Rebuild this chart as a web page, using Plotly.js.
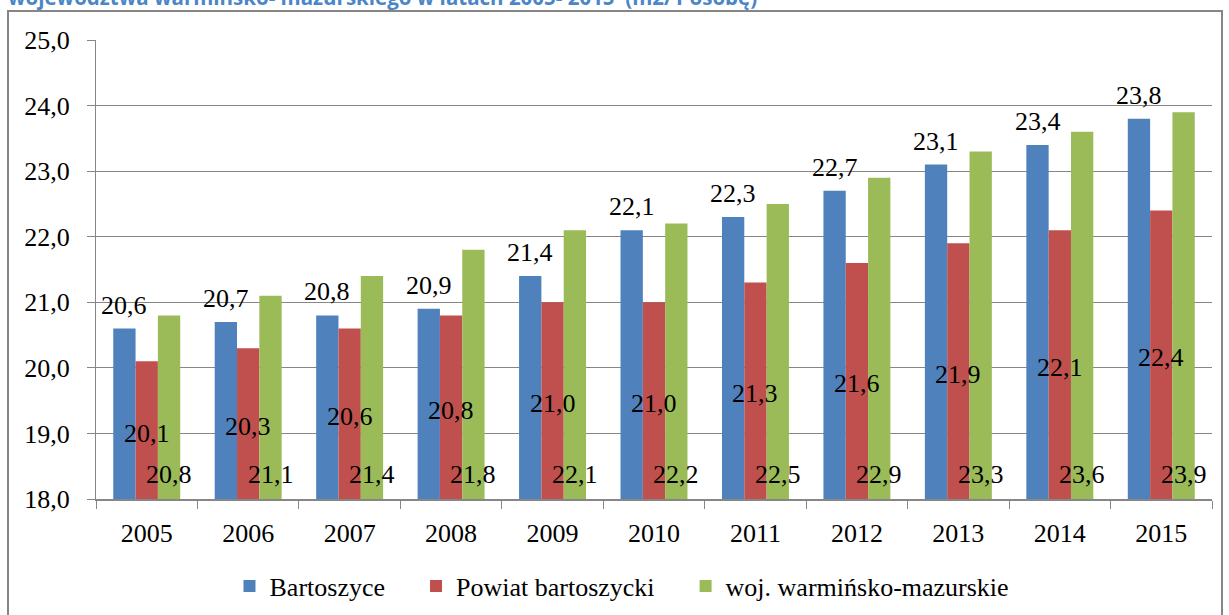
<!DOCTYPE html>
<html>
<head>
<meta charset="utf-8">
<script src="https://cdn.plot.ly/plotly-3.0.1.min.js"></script>
<style>html,body{margin:0;padding:0;background:#fff;}#chart{width:1229px;height:615px;}</style>
</head>
<body>
<div id="chart"></div>
<script>
const years = ["2005","2006","2007","2008","2009","2010","2011","2012","2013","2014","2015"];
const bartoszyce = [20.6,20.7,20.8,20.9,21.4,22.1,22.3,22.7,23.1,23.4,23.8];
const powiat = [20.1,20.3,20.6,20.8,21.0,21.0,21.3,21.6,21.9,22.1,22.4];
const wojewodztwo = [20.8,21.1,21.4,21.8,22.1,22.2,22.5,22.9,23.3,23.6,23.9];
const seriesNames = ["Bartoszyce","Powiat bartoszycki","woj. warmińsko-mazurskie"];
const seriesColors = ["#4F81BD","#C0504D","#9BBB59"];
const titleText = "województwa warmińsko- mazurskiego w latach 2005- 2015  (m2/1 osobę)";

const Y0 = 18, Y1 = 25;
const PLOT_W = 1116, PLOT_H = 459, BARGAP = 0.34;
const BAR_PX = PLOT_W / years.length * (1 - BARGAP) / 3;

const fmt = v => v.toFixed(1).replace('.', ',');
const F = (s) => ({family: "Liberation Serif", size: s || 26, color: "#000000"});
const legendPad = i => (i < seriesNames.length - 1 ? "\u00a0\u00a0\u00a0\u00a0" : "");

const allSeries = [bartoszyce, powiat, wojewodztwo];
const traces = allSeries.map((vals, i) => ({
  type: "bar", name: seriesNames[i] + legendPad(i), x: years, y: vals,
  marker: {color: seriesColors[i], line: {width: 0}}, hoverinfo: "skip"
}));

// data labels: blue above the bar end, red centred, green at the base
const annotations = [];
years.forEach((yr, k) => {
  annotations.push({x: k, y: bartoszyce[k], xref: "x", yref: "y", text: fmt(bartoszyce[k]),
    showarrow: false, xshift: -BAR_PX, yanchor: "bottom", yshift: 7, font: F()});
  annotations.push({x: k, y: (Y0 + powiat[k]) / 2, xref: "x", yref: "y", text: fmt(powiat[k]),
    showarrow: false, xshift: 0, yanchor: "middle", yshift: -3, font: F()});
  annotations.push({x: k, y: Y0, xref: "x", yref: "y", text: fmt(wojewodztwo[k]),
    showarrow: false, xshift: BAR_PX, yanchor: "bottom", yshift: 8, font: F()});
});
annotations.push({xref: "paper", yref: "paper", x: (6-96)/PLOT_W, y: (499-13)/PLOT_H, xanchor: "left", yanchor: "bottom",
  text: "<b>" + titleText + "</b>", showarrow: false,
  font: {family: "Open Sans", size: 20.5, color: "#4A86C8"}});

const layout = {
  width: 1229, height: 615,
  margin: {l: 96, r: 17, t: 40, b: 116, autoexpand: false},
  paper_bgcolor: "#fff", plot_bgcolor: "#fff",
  separators: ", ",
  barmode: "group", bargap: BARGAP, bargroupgap: 0,
  font: F(),
  showlegend: true,
  legend: {orientation: "h", x: (622-96)/PLOT_W, xanchor: "center", y: (499-586)/PLOT_H, yanchor: "middle",
           font: F(), traceorder: "normal", itemwidth: 30},
  xaxis: {type: "category", range: [-0.5, years.length - 0.5], autorange: false, automargin: false,
          tickson: "boundaries", ticks: "outside", ticklen: 8, tickcolor: "#868686", tickangle: 0,
          showline: true, linecolor: "#868686", linewidth: 2, showgrid: false, tickfont: F(),
          ticklabelstandoff: 10, fixedrange: true},
  yaxis: {range: [Y0, Y1], autorange: false, automargin: false, dtick: 1, tick0: Y0, tickformat: ".1f",
          ticks: "outside", ticklen: 8,
          tickcolor: "#868686", showline: true, linecolor: "#868686", linewidth: 1, gridcolor: "#868686",
          gridwidth: 1, zeroline: false, tickfont: F(), ticklabelstandoff: 12, fixedrange: true},
  shapes: [{type: "rect", xref: "paper", yref: "paper", x0: (8-96)/PLOT_W, x1: (1222-96)/PLOT_W,
            y0: -0.4, y1: (499-11)/PLOT_H, line: {color: "#868686", width: 2}, fillcolor: "rgba(0,0,0,0)", layer: "below"}],
  annotations: annotations
};

Plotly.newPlot("chart", traces, layout, {displayModeBar: false, staticPlot: true});
</script>
</body>
</html>
